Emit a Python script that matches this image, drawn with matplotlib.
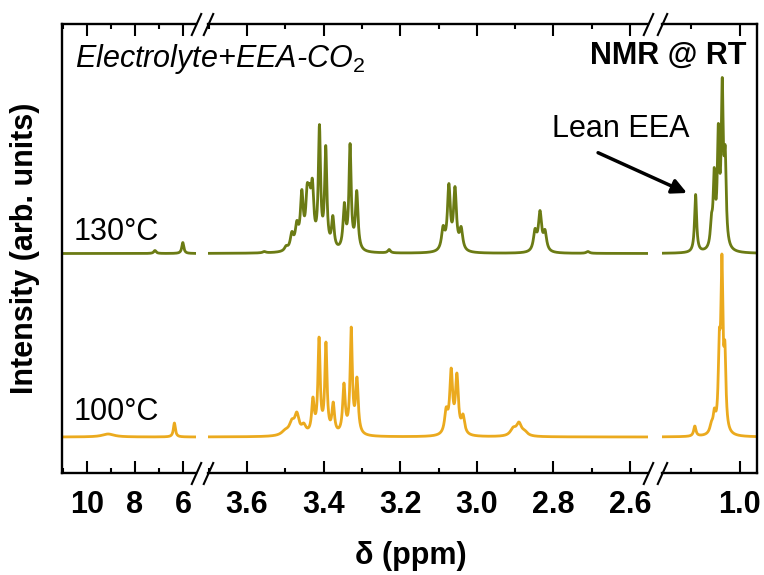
import numpy as np
import matplotlib
matplotlib.use("Agg")
import matplotlib.pyplot as plt
from matplotlib.ticker import MultipleLocator, FormatStrFormatter

plt.rcParams['font.family'] = ['Liberation Sans', 'DejaVu Sans']
plt.rcParams['mathtext.fontset'] = 'custom'
plt.rcParams['mathtext.rm'] = 'Liberation Sans'
plt.rcParams['mathtext.it'] = 'Liberation Sans:italic'
plt.rcParams['mathtext.bf'] = 'Liberation Sans:bold'
plt.rcParams['font.size'] = 22

# ppm windows of the three broken-axis panels (high -> low)
seg_limits = [(11.04, 5.46), (3.702, 2.553), (1.159, 0.965)]
seg_major = [2, 0.2, 0.2]
seg_minor = [1, 0.1, 0.1]
seg_fmt = ['%d', '%.1f', '%.1f']

# peaks: position (ppm), height (arb. units), half width (ppm)
ppm_130 = [7.17, 6.01,
           3.555, 3.498, 3.483, 3.470, 3.457, 3.443, 3.437, 3.4295, 3.411, 3.3945,
           3.376, 3.346, 3.331, 3.3136, 3.229,
           3.088, 3.073, 3.057, 3.041, 2.848, 2.835, 2.822, 2.71,
           1.0904, 1.058, 1.0524, 1.044, 1.036, 1.030]
int_130 = [3, 11,
           2, 8, 22, 33, 64, 70, 70, 75, 129, 108,
           38, 51, 110, 63, 4,
           28, 70, 67, 27, 25, 43, 24, 2,
           59, 40, 86, 130, 176, 108]
hw_130 = [0.06, 0.05,
          0.005, 0.005, 0.005, 0.005, 0.0045, 0.0045, 0.0045, 0.0045, 0.0035, 0.0035,
          0.004, 0.004, 0.0035, 0.004, 0.004,
          0.005, 0.0045, 0.0045, 0.005, 0.005, 0.005, 0.005, 0.005,
          0.0025, 0.0028, 0.0025, 0.0025, 0.0025, 0.0025]

ppm_100 = [9.12, 6.36,
           3.50, 3.483, 3.470, 3.452, 3.428, 3.412, 3.394, 3.375, 3.347, 3.328, 3.313,
           3.080, 3.067, 3.052, 3.036, 2.905, 2.890, 2.875,
           1.092, 1.058, 1.052, 1.042, 1.0367, 1.0306]
int_100 = [3, 14,
           8, 18, 25, 14, 40, 100, 95, 35, 54, 110, 60,
           30, 69, 64, 23, 10, 15, 7,
           11, 16, 29, 108, 183, 96]
hw_100 = [0.3, 0.05,
          0.012, 0.008, 0.007, 0.007, 0.004, 0.0035, 0.0035, 0.004, 0.004, 0.0035, 0.004,
          0.005, 0.0045, 0.0045, 0.005, 0.009, 0.008, 0.009,
          0.0028, 0.004, 0.003, 0.0025, 0.0025, 0.0025]

offset_130 = 183.5
c130 = '#6b7b14'
c100 = '#ebaa1e'


def lorentz(x, c, w):
    return 1.0 / (1.0 + ((x - c) / w) ** 2)


def spectrum(x, pos, height, hw):
    pos, height, hw = map(np.asarray, (pos, height, hw))
    # amplitudes chosen so that the summed curve hits the read peak heights
    m = lorentz(pos[:, None], pos[None, :], hw[None, :])
    amp = np.linalg.solve(m, height)
    return (amp[None, :] * lorentz(x[:, None], pos[None, :], hw[None, :])).sum(axis=1)


W, H = 764, 575
fig = plt.figure(figsize=(W / 100, H / 100), dpi=100)
px_edges = [(62, 196), (208, 648), (662, 757)]
top_px, bot_px = 24, 473

axes = []
for i, (x0, x1) in enumerate(px_edges):
    ax = fig.add_axes([x0 / W, (H - bot_px) / H, (x1 - x0) / W, (bot_px - top_px) / H])
    lo, hi = seg_limits[i]
    x = np.linspace(lo, hi, 4000)
    ax.plot(x, spectrum(x, ppm_130, int_130, hw_130) + offset_130, color=c130, lw=2)
    ax.plot(x, spectrum(x, ppm_100, int_100, hw_100), color=c100, lw=2)
    ax.set_xlim(lo, hi)
    ax.set_ylim(-36, 413)
    ax.xaxis.set_major_locator(MultipleLocator(seg_major[i]))
    ax.xaxis.set_minor_locator(MultipleLocator(seg_minor[i]))
    ax.xaxis.set_major_formatter(FormatStrFormatter(seg_fmt[i]))
    ax.tick_params(axis='x', which='both', direction='in', top=True, bottom=True,
                   width=1.5, pad=12)
    ax.tick_params(axis='x', which='major', length=8.5)
    ax.tick_params(axis='x', which='minor', length=3.6)
    ax.tick_params(axis='y', left=False, right=False, labelleft=False)
    for lab in ax.get_xticklabels():
        lab.set_fontweight('bold')
    for s in ax.spines.values():
        s.set_linewidth(1.7)
    if i > 0:
        ax.spines['left'].set_visible(False)
    if i < 2:
        ax.spines['right'].set_visible(False)
    axes.append(ax)

# break marks
slash = [(-0.45, -1), (0.45, 1)]
kw = dict(marker=slash, markersize=16.5, linestyle='none', color='k', mec='k',
          mew=1.5, clip_on=False)
for i, ax in enumerate(axes):
    if i < 2:
        ax.plot([1, 1], [0, 1], transform=ax.transAxes, **kw)
    if i > 0:
        ax.plot([0, 0], [0, 1], transform=ax.transAxes, **kw)

# labels and annotations
fig.text(25 / W, (H - 248) / H, 'Intensity (arb. units)', rotation=90,
         ha='center', va='center', fontweight='bold')
fig.text(411 / W, (H - 564) / H, 'δ (ppm)', ha='center', va='baseline',
         fontweight='bold')
fig.text(75 / W, (H - 67) / H, 'Electrolyte+EEA-CO$_2$', style='italic',
         ha='left', va='baseline')
fig.text(747 / W, (H - 64) / H, 'NMR @ RT', fontweight='bold',
         ha='right', va='baseline')
fig.text(74 / W, (H - 240) / H, '130°C', ha='left', va='baseline')
fig.text(74 / W, (H - 420) / H, '100°C', ha='left', va='baseline')
fig.text(552 / W, (H - 137) / H, 'Lean EEA', ha='left', va='baseline')

axes[2].annotate('', xy=(1.108, 244), xycoords='data',
                 xytext=(-64, 29), textcoords='offset points',
                 arrowprops=dict(arrowstyle='-|>', color='k', lw=2.5,
                                 mutation_scale=22, shrinkA=0, shrinkB=0),
                 annotation_clip=False)

fig.savefig('out.png', dpi=100)
